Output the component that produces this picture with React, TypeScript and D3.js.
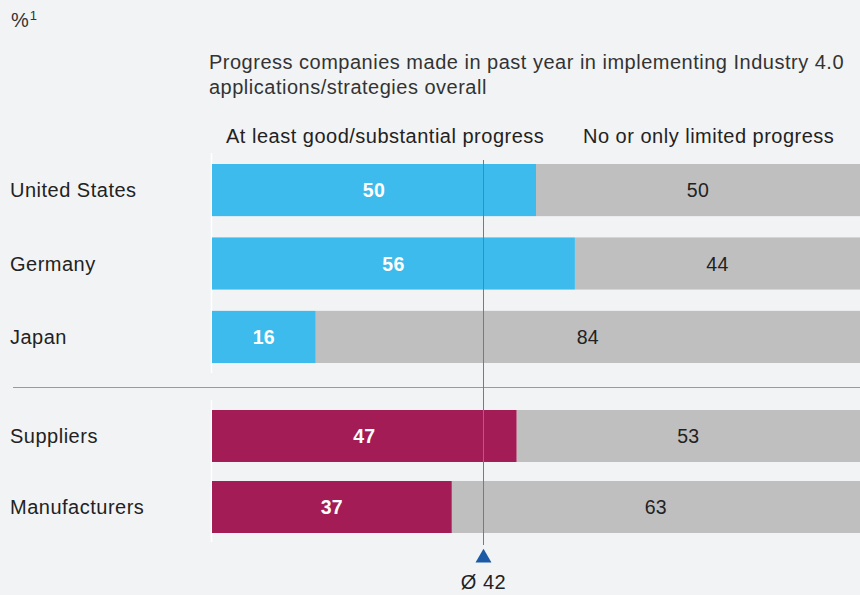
import React, { useEffect, useRef } from 'react';
import * as d3 from 'd3';

const topGroup = ["United States", "Germany", "Japan"];
const topProgress = [50, 56, 16];
const bottomGroup = ["Suppliers", "Manufacturers"];
const bottomProgress = [47, 37];
const average = 42;

const titleLines = [
  "Progress companies made in past year in implementing Industry 4.0",
  "applications/strategies overall",
];
const headerLabels = ["At least good/substantial progress", "No or only limited progress"];

const W = 860;
const H = 595;
const FONT = "'Liberation Sans', Arial, Helvetica, sans-serif";
const FS = 20;
const LS = 0.5;

export default function App() {
  const svgRef = useRef<SVGSVGElement>(null);

  useEffect(() => {
    document.body.style.margin = "0";
    if (!svgRef.current) return;
    const svg = d3.select(svgRef.current);
    svg.selectAll("*").remove();

    svg.append("rect").attr("width", W).attr("height", H).attr("fill", "#f2f3f5");

    const x = d3.scaleLinear().domain([0, 100]).range([212, 860]);

    const yTop = d3.scaleBand().domain(topGroup).range([164, 363]).paddingInner(0.29);
    const yBottom = d3.scaleBand().domain(bottomGroup).range([410, 533]).paddingInner(0.268);

    // "%1"
    const pct = svg.append("text")
      .attr("x", 11).attr("y", 27)
      .attr("font-family", FONT).attr("font-size", FS).attr("fill", "#333");
    pct.append("tspan").text("%");
    pct.append("tspan").attr("font-size", 13).attr("dy", -7).attr("dx", 1).text("1");

    // title
    svg.selectAll(".title")
      .data(titleLines)
      .enter()
      .append("text")
      .attr("x", 209)
      .attr("y", (d, i) => 69 + i * 24.5)
      .attr("font-family", FONT)
      .attr("font-size", FS)
      .attr("letter-spacing", LS)
      .attr("fill", "#333")
      .text(d => d);

    // headers
    svg.selectAll(".header")
      .data(headerLabels)
      .enter()
      .append("text")
      .attr("x", (d, i) => (i === 0 ? 226 : 583))
      .attr("y", 143)
      .attr("font-family", FONT)
      .attr("font-size", FS)
      .attr("letter-spacing", LS)
      .attr("fill", "#222")
      .text(d => d);

    // white axis lines at bar start
    svg.append("line")
      .attr("x1", x(0) - 0.5).attr("x2", x(0) - 0.5)
      .attr("y1", 153).attr("y2", 373)
      .attr("stroke", "#ffffff").attr("stroke-width", 1.5);
    svg.append("line")
      .attr("x1", x(0) - 0.5).attr("x2", x(0) - 0.5)
      .attr("y1", 400).attr("y2", 542)
      .attr("stroke", "#ffffff").attr("stroke-width", 1.5);

    // separator
    svg.append("line")
      .attr("x1", 13).attr("x2", 860)
      .attr("y1", 387.5).attr("y2", 387.5)
      .attr("stroke", "#9a9a9a").attr("stroke-width", 1.2);

    const drawGroup = (cats: string[], vals: number[], y: d3.ScaleBand<string>, color: string) => {
      const rows = cats.map((c, i) => ({ c, v: vals[i] }));
      const g = svg.append("g");

      g.selectAll(".rest")
        .data(rows)
        .enter()
        .append("rect")
        .attr("x", d => x(d.v))
        .attr("y", d => y(d.c)!)
        .attr("width", d => x(100) - x(d.v))
        .attr("height", y.bandwidth())
        .attr("fill", "#bfbfbf");

      g.selectAll(".prog")
        .data(rows)
        .enter()
        .append("rect")
        .attr("x", x(0))
        .attr("y", d => y(d.c)!)
        .attr("width", d => x(d.v) - x(0))
        .attr("height", y.bandwidth())
        .attr("fill", color);

      g.selectAll(".progLbl")
        .data(rows)
        .enter()
        .append("text")
        .attr("x", d => (x(0) + x(d.v)) / 2)
        .attr("y", d => y(d.c)! + y.bandwidth() / 2)
        .attr("dy", "0.36em")
        .attr("text-anchor", "middle")
        .attr("font-family", FONT)
        .attr("font-size", 19.5)
        .attr("letter-spacing", 0.3)
        .attr("font-weight", "bold")
        .attr("fill", "#ffffff")
        .text(d => d.v);

      g.selectAll(".restLbl")
        .data(rows)
        .enter()
        .append("text")
        .attr("x", d => (x(d.v) + x(100)) / 2)
        .attr("y", d => y(d.c)! + y.bandwidth() / 2)
        .attr("dy", "0.36em")
        .attr("text-anchor", "middle")
        .attr("font-family", FONT)
        .attr("font-size", 19.5)
        .attr("letter-spacing", 0.3)
        .attr("fill", "#222")
        .text(d => 100 - d.v);

      g.selectAll(".cat")
        .data(rows)
        .enter()
        .append("text")
        .attr("x", 10)
        .attr("y", d => y(d.c)! + y.bandwidth() / 2)
        .attr("dy", "0.36em")
        .attr("font-family", FONT)
        .attr("font-size", FS)
        .attr("letter-spacing", LS)
        .attr("fill", "#222")
        .text(d => d.c);
    };

    drawGroup(topGroup, topProgress, yTop, "#3dbbec");
    drawGroup(bottomGroup, bottomProgress, yBottom, "#a31c55");

    // average line
    const ax = Math.round(x(average)) - 0.5;
    svg.append("line")
      .attr("x1", ax).attr("x2", ax)
      .attr("y1", 160).attr("y2", 545)
      .attr("stroke", "#7a7a7a").attr("stroke-width", 1);

    svg.append("path")
      .attr("d", d3.symbol().type(d3.symbolTriangle).size(110))
      .attr("transform", `translate(${ax},${558})`)
      .attr("fill", "#1c5aa6");

    svg.append("text")
      .attr("x", ax)
      .attr("y", 589)
      .attr("text-anchor", "middle")
      .attr("font-family", FONT)
      .attr("font-size", FS)
      .attr("letter-spacing", LS)
      .attr("fill", "#222")
      .text(`Ø ${average}`);
  }, []);

  return <svg ref={svgRef} width={W} height={H} style={{ display: "block" }} />;
}
